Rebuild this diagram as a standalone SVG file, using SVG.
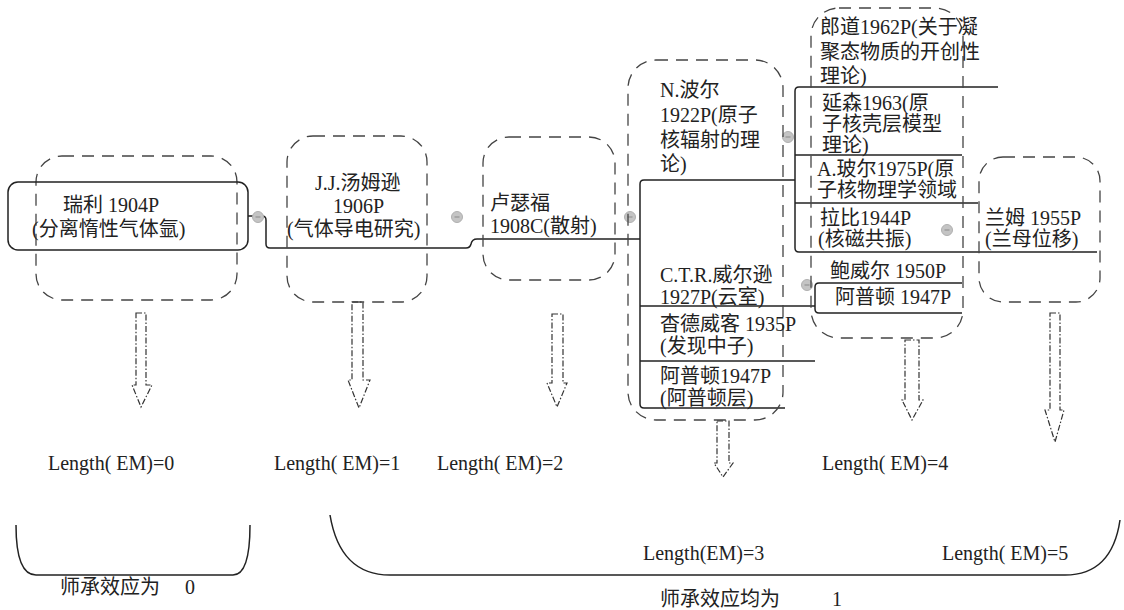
<svg xmlns="http://www.w3.org/2000/svg" width="1124" height="610" viewBox="0 0 1124 610">
<style>
text{font-family:"Liberation Serif","Noto Sans CJK SC",serif;fill:#222;font-size:20px}
.lbl{font-size:20px}
.dbox{fill:none;stroke:#444;stroke-width:1.3;stroke-dasharray:12 8}
.ln{fill:none;stroke:#222;stroke-width:1.5}
.arr{fill:none;stroke:#333;stroke-width:1.2;stroke-dasharray:6 2 1.5 2}
.br{fill:none;stroke:#222;stroke-width:1.5}
</style>
<defs>
<g id="dot"><circle r="5.5" fill="#c4c4c4" stroke="#b0b0b0" stroke-width="1"/><line x1="-2.5" y1="0" x2="2.5" y2="0" stroke="#8a8a8a" stroke-width="1"/></g>
</defs>
<rect width="1124" height="610" fill="#fff"/>

<g id="connectors">
<path class="ln" d="M248,216 H262 Q266,216 266,220 V244 Q266,248 270,248 H466 Q470,248 471,244 Q472,239 477,239 H640"/>
<path class="ln" d="M795,180 H644 Q640,180 640,184 V404 Q640,408 644,408 H785"/>
<path class="ln" d="M640,306 H815"/>
<path class="ln" d="M640,361 H815"/>
<path class="ln" d="M998,87 H799 Q795,87 795,91 V248 Q795,252 799,252 H1097"/>
<path class="ln" d="M795,155 H962"/>
<path class="ln" d="M795,203 H978"/>
<path class="ln" d="M962,283 H819 Q815,283 815,287 V309 Q815,313 819,313 H962"/>
<use href="#dot" x="258" y="217"/>
<use href="#dot" x="457" y="217"/>
<use href="#dot" x="630" y="217"/>
<use href="#dot" x="788" y="137"/>
<use href="#dot" x="807" y="285"/>
<use href="#dot" x="947" y="230"/>
</g>

<g id="node0">
<rect class="dbox" x="36" y="156" width="201" height="144" rx="26"/>
<rect class="ln" x="8" y="182" width="240" height="68" rx="10"/>
<text x="63" y="212">瑞利  1904P</text>
<text x="32" y="236">(分离惰性气体氩)</text>
</g>

<g id="node1">
<rect class="dbox" x="287" y="136" width="140" height="166" rx="26"/>
<text x="315" y="190">J.J.汤姆逊</text>
<text x="333" y="213">1906P</text>
<text x="287" y="236">(气体导电研究)</text>
</g>

<g id="node2">
<rect class="dbox" x="483" y="137" width="132" height="143" rx="26"/>
<text x="490" y="210">卢瑟福</text>
<text x="490" y="233">1908C(散射)</text>
</g>

<g id="node3">
<rect class="dbox" x="628" y="60" width="155" height="360" rx="28"/>
<text x="660" y="97">N.波尔</text>
<text x="660" y="122">1922P(原子</text>
<text x="660" y="147">核辐射的理</text>
<text x="660" y="171">论)</text>
<text x="660" y="282">C.T.R.威尔逊</text>
<text x="660" y="304">1927P(云室)</text>
<text x="660" y="331">杳德威客 1935P</text>
<text x="660" y="353">(发现中子)</text>
<text x="660" y="383">阿普顿1947P</text>
<text x="660" y="405">(阿普顿层)</text>
</g>

<g id="node4">
<rect class="dbox" x="811" y="8" width="152" height="330" rx="28"/>
<text x="820" y="34">郎道1962P(关于凝</text>
<text x="820" y="59">聚态物质的开创性</text>
<text x="820" y="83">理论)</text>
<text x="822" y="110">延森1963(原</text>
<text x="822" y="131">子核壳层模型</text>
<text x="822" y="152">理论)</text>
<text x="817" y="176">A.玻尔1975P(原</text>
<text x="817" y="197">子核物理学领域</text>
<text x="820" y="225">拉比1944P</text>
<text x="818" y="246">(核磁共振)</text>
<text x="830" y="278">鲍威尔 1950P</text>
<text x="835" y="304">阿普顿 1947P</text>
</g>

<g id="node5">
<rect class="dbox" x="979" y="157" width="121" height="145" rx="24"/>
<text x="985" y="225">兰姆 1955P</text>
<text x="985" y="246">(兰母位移)</text>
</g>

<g id="arrows">
<path class="arr" d="M136,313 H146 V385 H152 L141,407 L132,385 H136 Z"/>
<path class="arr" d="M352,302 H363 V380 H370 L359,408 L348,380 H352 Z"/>
<path class="arr" d="M552,314 H563 V383 H567 L557,407 L547,383 H552 Z"/>
<path class="arr" d="M717,421 H729 V463 H733 L723,477 L714,463 H717 Z"/>
<path class="arr" d="M905,340 H919 V400 H923 L912,420 L902,400 H905 Z"/>
<path class="arr" d="M1050,313 H1060 V410 H1064 L1055,442 L1045,410 H1050 Z"/>
</g>

<g id="labels">
<text class="lbl" x="48" y="470">Length( EM)=0</text>
<text class="lbl" x="274" y="470">Length( EM)=1</text>
<text class="lbl" x="437" y="470">Length( EM)=2</text>
<text class="lbl" x="822" y="470">Length( EM)=4</text>
<text class="lbl" x="643" y="560">Length(EM)=3</text>
<text class="lbl" x="942" y="560">Length( EM)=5</text>
</g>

<g id="brackets">
<path class="br" d="M16,525 Q16,575 36,575 H233 Q250,575 250,525"/>
<path class="br" d="M330,515 Q340,575 390,575 H1065 Q1112,575 1120,520"/>
<text class="lbl" x="60" y="594">师承效应为<tspan x="185">0</tspan></text>
<text class="lbl" x="660" y="606">师承效应均为<tspan x="832">1</tspan></text>
</g>
</svg>
